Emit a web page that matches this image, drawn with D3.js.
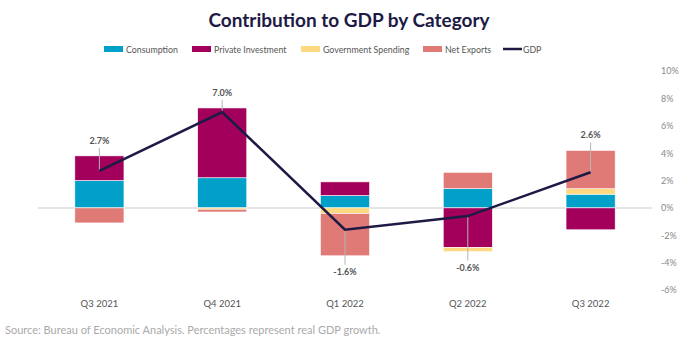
<!DOCTYPE html>
<html>
<head>
<meta charset="utf-8">
<script src="https://cdn.jsdelivr.net/npm/d3@7"></script>
<style>
  body { margin: 0; background: #fff; }
  svg { display: block; font-family: "Lato", "Open Sans", sans-serif; }
</style>
</head>
<body>
<svg id="chart" width="700" height="339"></svg>
<script>
// data
var quarters = ["Q3 2021", "Q4 2021", "Q1 2022", "Q2 2022", "Q3 2022"];
var consumption = [2.0, 2.2, 0.9, 1.4, 1.0];
var privateInvestment = [1.8, 5.1, 1.0, -2.9, -1.6];
var governmentSpending = [0.0, -0.1, -0.4, -0.3, 0.4];
var netExports = [-1.1, -0.2, -3.1, 1.2, 2.8];
var gdp = [2.7, 7.0, -1.6, -0.6, 2.6];
var yTicks = [-6, -4, -2, 0, 2, 4, 6, 8, 10];

var seriesNames = ["Consumption", "Private Investment", "Government Spending", "Net Exports"];
var colors = ["#00a0c8", "#a3005c", "#fcd980", "#e07a76"];

var rows = quarters.map(function(q, i) {
  return {
    quarter: q,
    "Consumption": consumption[i],
    "Private Investment": privateInvestment[i],
    "Government Spending": governmentSpending[i],
    "Net Exports": netExports[i],
    gdp: gdp[i]
  };
});

var svg = d3.select("#chart");

var x = d3.scaleBand().domain(quarters).range([38, 652]).paddingInner(0.6).paddingOuter(0.3);
var y = d3.scaleLinear().domain([-6, 10]).range([290, 71]);

// title
svg.append("text")
  .attr("x", 349).attr("y", 27)
  .attr("text-anchor", "middle")
  .attr("font-size", 19).attr("font-weight", 700)
  .attr("fill", "#1d1a45")
  .text("Contribution to GDP by Category");

// legend
var legendX = [104, 192, 301, 423, 503];
var legend = svg.append("g");
seriesNames.forEach(function(name, i) {
  var g = legend.append("g").attr("transform", "translate(" + legendX[i] + ",49)");
  g.append("rect").attr("x", 0).attr("y", -3).attr("width", 19).attr("height", 6).attr("fill", colors[i]);
  g.append("text").attr("x", 22).attr("y", 3.5)
    .attr("font-size", 8.8).attr("fill", "#555").text(name);
});
var gl = legend.append("g").attr("transform", "translate(" + legendX[4] + ",49)");
gl.append("line").attr("x1", 0).attr("x2", 19).attr("stroke", "#1d1a45").attr("stroke-width", 2.5);
gl.append("text").attr("x", 20).attr("y", 3.5).attr("font-size", 8.8).attr("fill", "#555").text("GDP");

// y axis on the right
var yAxis = svg.append("g")
  .attr("transform", "translate(652,0)")
  .call(d3.axisRight(y).tickValues(yTicks).tickSize(0).tickPadding(9).tickFormat(function(d) { return d + "%"; }));
yAxis.select(".domain").remove();
yAxis.selectAll("text").attr("font-size", 9).attr("fill", "#888").attr("font-family", "Lato, sans-serif");

// zero line
svg.append("line")
  .attr("x1", 38).attr("x2", 652)
  .attr("y1", y(0)).attr("y2", y(0))
  .attr("stroke", "#dcdcdc").attr("stroke-width", 1.5);

// x axis labels
var xAxis = svg.append("g")
  .attr("transform", "translate(0,297)")
  .call(d3.axisBottom(x).tickSize(0).tickPadding(3));
xAxis.select(".domain").remove();
xAxis.selectAll("text").attr("font-size", 9.5).attr("fill", "#555").attr("font-family", "Lato, sans-serif");

// stacked bars
var stack = d3.stack().keys(seriesNames).offset(d3.stackOffsetDiverging);
var stacked = stack(rows);

svg.append("g").selectAll("g")
  .data(stacked)
  .join("g")
  .attr("fill", function(d, i) { return colors[i]; })
  .selectAll("rect")
  .data(function(d) { return d; })
  .join("rect")
  .attr("x", function(d) { return x(d.data.quarter); })
  .attr("width", x.bandwidth())
  .attr("y", function(d) { return y(Math.max(d[0], d[1])); })
  .attr("height", function(d) { return Math.abs(y(d[0]) - y(d[1])); })
  .attr("stroke", "#fff").attr("stroke-width", 0.6);

// bar extents for label placement
function barTop(i) {
  var m = 0;
  stacked.forEach(function(s) { m = Math.max(m, s[i][0], s[i][1]); });
  return m;
}
function barBottom(i) {
  var m = 0;
  stacked.forEach(function(s) { m = Math.min(m, s[i][0], s[i][1]); });
  return m;
}

var cx = function(d) { return x(d.quarter) + x.bandwidth() / 2; };

// leader lines and labels
var labels = svg.append("g");
rows.forEach(function(d, i) {
  var px = cx(d), py = y(d.gdp);
  var ly, lineEnd;
  if (d.gdp >= 0) {
    ly = y(barTop(i)) - 12;
    lineEnd = ly + 4;
  } else {
    ly = y(barBottom(i)) + 19;
    lineEnd = ly - 10;
  }
  labels.append("line")
    .attr("x1", px).attr("x2", px)
    .attr("y1", py).attr("y2", lineEnd)
    .attr("stroke", "#b5b5b5").attr("stroke-width", 1);
  labels.append("text")
    .attr("x", px).attr("y", ly)
    .attr("text-anchor", "middle")
    .attr("font-size", 9).attr("font-weight", 700)
    .attr("fill", "#555")
    .text(d.gdp.toFixed(1) + "%");
});

// GDP line
var line = d3.line().x(cx).y(function(d) { return y(d.gdp); });
svg.append("path")
  .datum(rows)
  .attr("d", line)
  .attr("fill", "none")
  .attr("stroke", "#1d1a45")
  .attr("stroke-width", 2.5);

// source
svg.append("text")
  .attr("x", 5).attr("y", 334)
  .attr("font-size", 11).attr("fill", "#aaa")
  .text("Source: Bureau of Economic Analysis. Percentages represent real GDP growth.");
</script>
</body>
</html>
